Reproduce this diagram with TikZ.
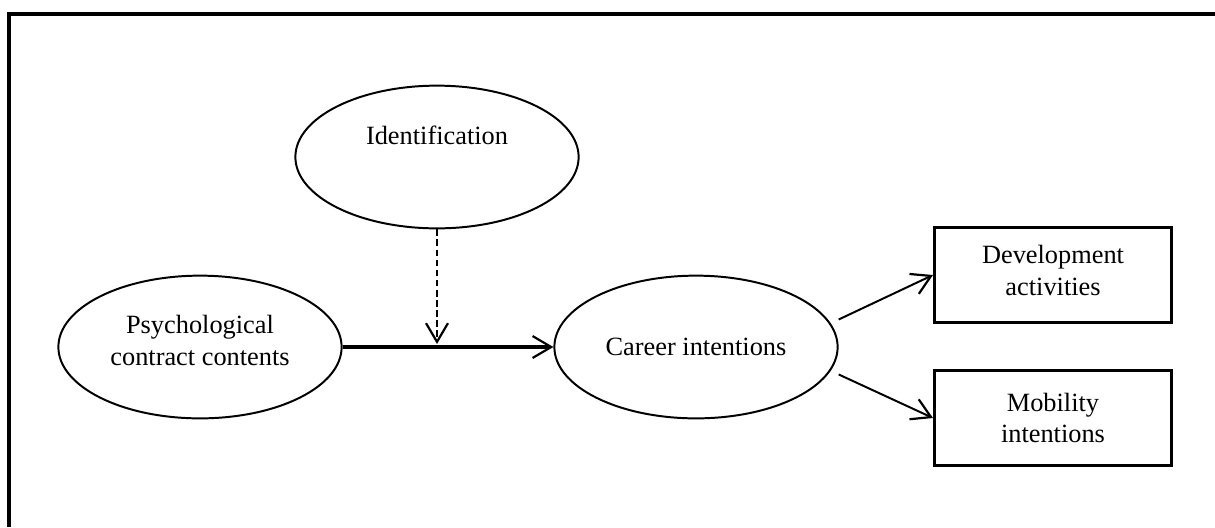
\documentclass[tikz,border=0pt]{standalone}
\usepackage{fontspec}
\setmainfont{Liberation Serif}
\usepackage{xcolor}
\usepackage{tikz}
\usetikzlibrary{positioning, shapes.geometric, arrows.meta}

\begin{document}
\begin{tikzpicture}[x=0.016cm, y=-0.016cm,
  ovalnode/.style={ellipse, draw=black, line width=0.9pt, inner sep=0pt, minimum width=129pt, minimum height=65pt, align=center, font=\fontsize{12}{14.5}\selectfont},
  boxnode/.style={rectangle, draw=black, line width=1.3pt, inner sep=0pt, minimum width=108pt, minimum height=43pt, align=center, font=\fontsize{12}{14.5}\selectfont},
  arr/.style={line width=0.9pt, -{Straight Barb[length=8.5pt, width=10pt, line width=1pt]}}]
\useasboundingbox (0,0) rectangle (1215,527);

% frame
\draw[line width=1.4pt] (9,527) -- (9,14) -- (1215,14);

\node[ovalnode, text depth=20pt] at (437,157) (ident) {Identification};
\node[ovalnode, text depth=6pt] at (200,347) (psych) {Psychological\\contract contents};
\node[ovalnode] at (696,347) (career) {Career intentions};
\node[boxnode, text depth=4pt] at (1053,275) (dev) {Development\\activities};
\node[boxnode] at (1053,418) (mob) {Mobility\\intentions};
\coordinate (join) at (437,344);

\draw[arr, line width=1.4pt] (psych) -- (career);
\draw[arr, line width=0.8pt, dash pattern=on 3pt off 1.6pt] (ident) -- (join);
\draw[arr, shorten <=4pt] (career.10) -- (dev.west);
\draw[arr, shorten <=4pt] (career.-10) -- (mob.west);

\end{tikzpicture}
\end{document}
